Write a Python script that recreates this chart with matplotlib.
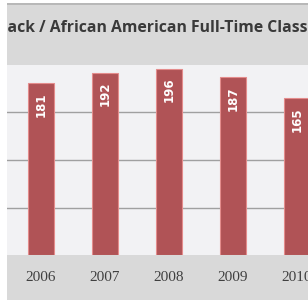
import matplotlib.pyplot as plt
from matplotlib.patches import Rectangle

# data
years = ['2006', '2007', '2008', '2009', '2010']
class_size = [181, 192, 196, 187, 165]
title = 'Black / African American Full-Time Class Size'

W, H = 308, 303
fig = plt.figure(figsize=(W / 100, H / 100), dpi=100)
fig.patch.set_facecolor('white')

# gray chart frame
fig.patches.append(Rectangle((7 / W, 3 / H), 1, (H - 7) / H, transform=fig.transFigure,
                             facecolor='#d9d9d9', edgecolor='none', zorder=0))
fig.patches.append(Rectangle((7 / W, (H - 5) / H), 1, 1.5 / H, transform=fig.transFigure,
                             facecolor='#b8b8b8', edgecolor='none', zorder=0))
# white strip on the left (the chart is cropped there)
fig.patches.append(Rectangle((0, 0), 7 / W, 1, transform=fig.transFigure,
                             facecolor='white', edgecolor='none', zorder=10))

ax = fig.add_axes([7 / W, (H - 255) / H, 1, (255 - 65) / H])
ax.set_zorder(2)
ax.set_facecolor('#f2f2f4')
x = range(len(years))
bars = ax.bar(x, class_size, width=0.41, color='#b05356', edgecolor='#e48c8c', linewidth=0.8, zorder=3)
for b, v in zip(bars, class_size):
    ax.annotate(str(v), (b.get_x() + b.get_width() / 2, v), xytext=(0, -6.5),
                textcoords='offset points', ha='center', va='top', rotation=90,
                color='white', fontsize=8.5, fontweight='bold', zorder=4)

# axes spans 308 px, category step 64 px, first centre at 41 px
ax.set_xlim(-34 / 64, (W - 34) / 64)
ax.set_ylim(0, 200)
ax.set_yticks([50, 100, 150])
ax.yaxis.grid(True, color='#a0a0a0', linewidth=1, zorder=0)
ax.tick_params(left=False, labelleft=False, bottom=False)
ax.set_xticks(list(x))
ax.set_xticklabels(years, family='Liberation Serif', fontsize=11, color='#404040')
ax.tick_params(axis='x', pad=8)
for s in ax.spines.values():
    s.set_visible(False)

# title, cropped on the left like the reference
r = fig.canvas.get_renderer()
tfont = dict(fontweight='bold', family='Open Sans')
tmp = fig.text(0, 0, 'ack / African American Full-Time Class', fontsize=10, **tfont)
fs = 10 * 300 / tmp.get_window_extent(r).width
tmp.remove()
tmp = fig.text(0, 0, 'Bl', fontsize=fs, **tfont)
wbl = tmp.get_window_extent(r).width
tmp.remove()
fig.text((8 - wbl) / W, (H - 28) / H, title, fontsize=fs, color='#3a3a3a',
         ha='left', va='center', **tfont)

fig.savefig('out.png', dpi=100)
